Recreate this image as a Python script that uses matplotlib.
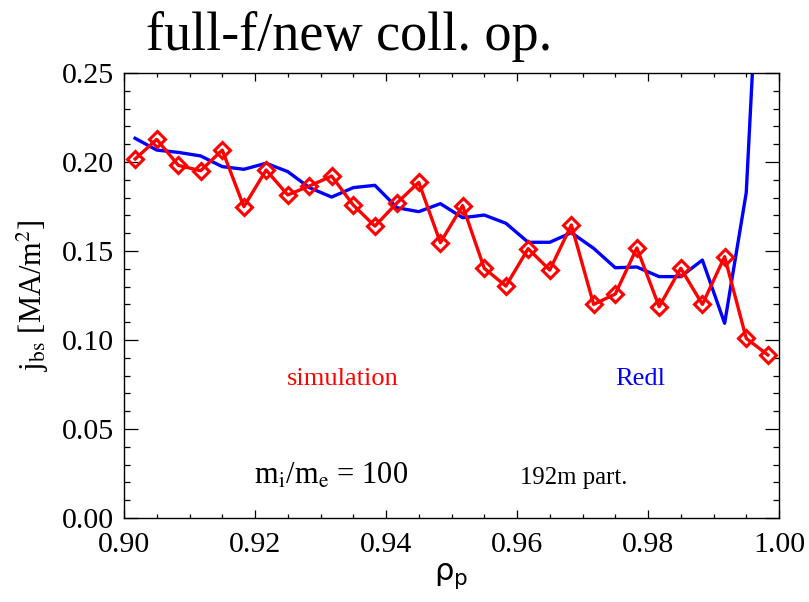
import numpy as np
import matplotlib
matplotlib.use("Agg")
import matplotlib.pyplot as plt
from matplotlib.ticker import MultipleLocator, FormatStrFormatter

rho_p = [0.9017, 0.9050, 0.9083, 0.9117, 0.9150, 0.9183, 0.9217, 0.9250, 0.9283, 0.9317,
         0.9350, 0.9383, 0.9417, 0.9450, 0.9483, 0.9517, 0.9550, 0.9583, 0.9617, 0.9650,
         0.9683, 0.9717, 0.9750, 0.9783, 0.9817, 0.9850, 0.9883, 0.9917, 0.9950, 0.9983]

j_sim = [0.2017, 0.2127, 0.1981, 0.1951, 0.2067, 0.1749, 0.1955, 0.1815, 0.1865, 0.1921,
         0.1758, 0.1640, 0.1771, 0.1886, 0.1547, 0.1755, 0.1403, 0.1303, 0.1513, 0.1393,
         0.1646, 0.1200, 0.1258, 0.1517, 0.1187, 0.1403, 0.1200, 0.1468, 0.1009, 0.0916]

j_redl = [0.2133, 0.2067, 0.2054, 0.2034, 0.1974, 0.1959, 0.1993, 0.1946, 0.1856, 0.1803,
          0.1856, 0.1869, 0.1743, 0.1721, 0.1766, 0.1687, 0.1702, 0.1656, 0.1549, 0.1549,
          0.1603, 0.1515, 0.1406, 0.1410, 0.1356, 0.1356, 0.1449, 0.1094, 0.1828, 0.4200]

plt.rcParams['font.family'] = ['Liberation Serif', 'DejaVu Serif']
plt.rcParams['mathtext.fontset'] = 'stix'

fig = plt.figure(figsize=(8.09, 6.02), dpi=100)
ax = fig.add_axes([124/809, 1-518/602, (779-124)/809, (518-73)/602])

ax.plot(rho_p, j_redl, color='#0000ff', lw=2.4, zorder=2)
ax.plot(rho_p, j_sim, color='#ff0000', lw=2.4, marker='D', markersize=8,
        markerfacecolor='none', markeredgecolor='#ff0000', markeredgewidth=2.2, zorder=3)

ax.set_xlim(0.90, 1.00)
ax.set_ylim(0.0, 0.25)
ax.xaxis.set_major_locator(MultipleLocator(0.02))
ax.xaxis.set_minor_locator(MultipleLocator(0.005))
ax.yaxis.set_major_locator(MultipleLocator(0.05))
ax.yaxis.set_minor_locator(MultipleLocator(0.01))
ax.xaxis.set_major_formatter(FormatStrFormatter('%.2f'))
ax.yaxis.set_major_formatter(FormatStrFormatter('%.2f'))

ax.tick_params(axis='both', which='both', direction='in', top=True, right=True,
               labelsize=21.5, width=0.9)
ax.tick_params(axis='x', which='major', length=6, pad=10)
ax.tick_params(axis='x', which='minor', length=3)
ax.tick_params(axis='y', which='major', length=10, pad=7)
ax.tick_params(axis='y', which='minor', length=4.5)
for s in ax.spines.values():
    s.set_linewidth(1.0)

ax.set_xlabel(r'$\mathrm{\rho}_{\mathrm{p}}$', fontsize=22, labelpad=2,
              math_fontfamily='dejavusans')
ax.set_ylabel(r'j$_{\mathrm{bs}}$ [MA/m$^{2}$]', fontsize=22, labelpad=8)

fig.text(349/809, 1-50/602, 'full-f/new coll. op.', fontsize=39, ha='center', va='baseline')

fig.text(343/809, 1-385/602, 'simulation', color='#ff0000', fontsize=19, ha='center', va='baseline')
fig.text(640/809, 1-385/602, 'Redl', color='#0000ff', fontsize=19, ha='center', va='baseline')
fig.text(331/809, 1-484/602, r'm$_{\mathrm{i}}$/m$_{\mathrm{e}}$ = 100', fontsize=22, ha='center', va='baseline')
fig.text(574/809, 1-484/602, '192m part.', fontsize=17.8, ha='center', va='baseline')

fig.savefig('out.png', dpi=100)
